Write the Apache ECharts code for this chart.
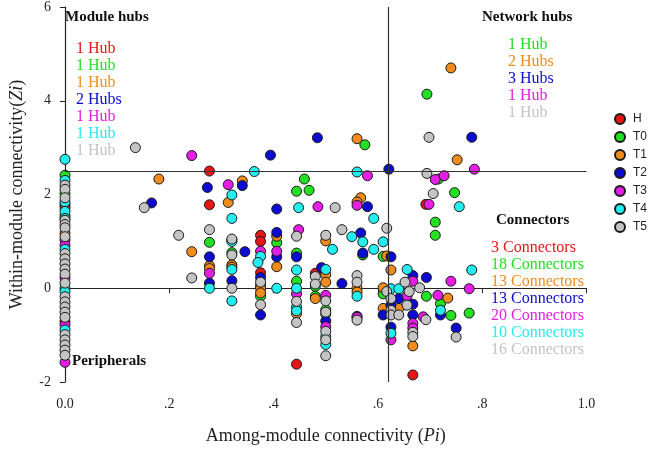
<!DOCTYPE html>
<html>
<head>
<meta charset="utf-8">
<script src="https://cdn.jsdelivr.net/npm/echarts@6/dist/echarts.min.js"></script>
<style>html,body{margin:0;padding:0;background:#fff}#c{width:666px;height:450px}</style>
</head>
<body>
<div id="c"></div>
<script>
const seriesNames = ['H','T0','T1','T2','T3','T4','T5'];
const seriesColors = ['#e41616','#22e022','#f08c1e','#0c0cd0','#e41ee4','#22eef0','#c4c4c4'];
const xTicks = ['0.0','.2','.4','.6','.8','1.0'];
const yTicks = ['-2','0','2','4','6'];
const piThreshold = 0.62;
const ziThreshold = 2.5;

const dataH = [
[0,1.78],[0,1.72],[0,-0.71],
[0.277,2.5],[0.277,1.78],[0.375,1.13],[0.375,1.0],[0.375,0.33],[0.48,0.32],[0.444,-1.62],[0.667,-1.85],[0.692,1.79]
];
const dataT0 = [
[0,2.41],[0,2.02],[0,1.55],
[0.694,4.14],[0.575,3.06],[0.459,2.33],[0.444,2.07],[0.468,2.09],[0.716,2.33],[0.747,2.04],[0.71,1.41],[0.71,1.13],
[0.277,0.98],[0.32,1.03],[0.32,0.76],[0.406,0.97],[0.444,0.75],[0.444,0.15],[0.48,0.04],[0.48,-0.17],[0.375,0.05],[0.375,-0.17],[0.5,-0.46],[0.5,-0.55],
[0.571,0.71],[0.61,0.68],[0.61,-0.12],[0.693,-0.17],[0.72,-0.33],[0.74,-0.58],[0.775,-0.53]
];
const dataT1 = [
[0,1.18],
[0.74,4.7],[0.752,2.74],[0.56,3.19],[0.18,2.33],[0.34,2.29],[0.313,1.83],[0.567,1.93],[0.56,1.84],
[0.243,0.78],[0.277,0.48],[0.277,0.42],[0.32,0.5],[0.32,0.45],[0.406,1.11],[0.406,0.46],
[0.5,1.01],[0.5,0.29],[0.5,0.13],[0.56,0.0],[0.56,-0.08],[0.617,0.69],[0.625,0.39],
[0.61,0.01],[0.61,-0.43],[0.64,-0.43],[0.734,-0.21],[0.667,-1.23],[0.48,-0.22],[0.444,-0.54],[0.375,0.0],[0.375,-0.1]
];
const dataT2 = [
[0.78,3.22],[0.621,2.54],[0.484,3.21],[0.394,2.84],[0.273,2.15],[0.34,2.19],[0.166,1.82],[0.406,1.69],[0.58,1.74],
[0.277,0.67],[0.277,0.11],[0.32,0.16],[0.345,0.78],[0.406,1.19],[0.406,0.67],[0.375,0.23],[0.375,-0.57],[0.444,0.67],
[0.492,0.44],[0.531,0.1],[0.567,1.18],[0.571,0.75],[0.625,0.67],[0.667,0.27],[0.693,0.23],[0.64,-0.22],[0.625,-0.36],
[0.61,-0.57],[0.667,-0.34],[0.667,-0.57],[0.72,-0.57],[0.75,-0.85],[0.625,-0.83],[0.5,-0.7],[0.56,-0.6]
];
const dataT3 = [
[0,1.03],[0,0.92],[0,0.22],[0,-0.78],[0,-1.58],
[0.243,2.83],[0.313,2.21],[0.785,2.54],[0.58,2.4],[0.71,2.32],[0.727,2.4],[0.56,1.77],[0.485,1.74],[0.698,1.79],[0.448,1.25],
[0.277,0.32],[0.375,0.79],[0.406,0.79],[0.667,0.15],[0.74,0.15],[0.775,-0.01],[0.656,-0.16],[0.715,-0.15],[0.687,-0.61],
[0.667,-0.75],[0.667,-0.85],[0.625,-1.1],[0.56,-0.62],[0.5,-0.15],[0.5,-0.82],[0.444,-0.12]
];
const dataT4 = [
[0,2.75],[0,2.3],[0,1.84],[0,1.64],[0,1.49],[0,0.83],[0,0.0],[0,-0.07],[0,-0.89],
[0.363,2.49],[0.56,2.48],[0.32,1.99],[0.32,1.49],[0.448,1.72],[0.592,1.49],[0.756,1.74],
[0.277,0.0],[0.32,1.0],[0.32,0.4],[0.32,-0.27],[0.375,0.68],[0.37,0.55],[0.406,0.0],
[0.444,0.39],[0.444,0.0],[0.444,-0.4],[0.444,-0.48],[0.5,0.4],[0.5,-1.03],[0.5,-1.2],
[0.513,0.83],[0.55,1.1],[0.571,0.99],[0.592,0.83],[0.61,0.99],[0.56,-0.17],[0.656,0.4],[0.78,0.39],
[0.625,-0.01],[0.64,-0.01],[0.72,-0.47],[0.625,-0.96]
];
const dataT5 = [
[0,2.2],[0,2.11],[0,1.93],[0,1.45],[0,1.36],[0,1.29],[0,1.1],[0,0.74],[0,0.63],[0,0.52],[0,0.41],[0,0.3],[0,0.11],[0,-0.18],[0,-0.29],[0,-0.4],[0,-0.51],[0,-0.62],[0,-0.99],[0,-1.1],[0,-1.21],[0,-1.32],[0,-1.43],
[0.135,3.0],[0.152,1.72],[0.218,1.13],[0.243,0.22],[0.277,1.25],[0.32,0.71],[0.32,0.0],[0.32,1.05],
[0.375,0.13],[0.375,-0.35],[0.444,1.11],[0.444,-0.28],[0.444,-0.73],[0.48,0.25],[0.48,0.09],
[0.5,1.13],[0.5,-0.27],[0.5,-0.51],[0.5,-0.92],[0.5,-1.1],[0.5,-1.44],[0.518,1.72],[0.531,1.25],
[0.56,0.27],[0.56,0.13],[0.56,-0.68],[0.617,1.28],[0.694,2.45],[0.698,3.22],[0.706,2.02],
[0.617,-0.07],[0.625,-0.22],[0.625,-0.47],[0.625,-0.57],[0.64,-0.57],[0.652,0.13],[0.66,-0.07],[0.656,-0.36],
[0.68,0.01],[0.692,-0.67],[0.667,-0.94],[0.667,-1.03],[0.75,-1.04]
];
const allData = [dataH, dataT0, dataT1, dataT2, dataT3, dataT4, dataT5];

const moduleHubs = ['1 Hub','1 Hub','1 Hub','2 Hubs','1 Hub','1 Hub','1 Hub'];
const networkHubs = ['1 Hub','2 Hubs','3 Hubs','1 Hub','1 Hub'];
const networkHubColors = [1,2,3,4,6];
const connectors = ['3 Connectors','18 Connectors','13 Connectors','13 Connectors','20 Connectors','10 Connectors','16 Connectors'];

const serif = '"Liberation Serif","Times New Roman",serif';
const graphics = [];
graphics.push({type:'text', left:65, top:10, style:{text:'Module hubs', font:'bold 15px '+serif, fill:'#111'}});
moduleHubs.forEach((t,i)=>graphics.push({type:'text', left:76, top:41+i*17, style:{text:t, font:'16px '+serif, fill:seriesColors[i]}}));
graphics.push({type:'text', left:482, top:10, style:{text:'Network hubs', font:'bold 15px '+serif, fill:'#111'}});
networkHubs.forEach((t,i)=>graphics.push({type:'text', left:508, top:37+i*17, style:{text:t, font:'16px '+serif, fill:seriesColors[networkHubColors[i]]}}));
graphics.push({type:'text', left:496, top:213, style:{text:'Connectors', font:'bold 15px '+serif, fill:'#111'}});
connectors.forEach((t,i)=>graphics.push({type:'text', left:491, top:240+i*17, style:{text:t, font:'16px '+serif, fill:seriesColors[i]}}));
graphics.push({type:'text', left:72, top:354, style:{text:'Peripherals', font:'bold 15px '+serif, fill:'#111'}});

const series = seriesNames.map((n,i)=>({
  name:n, type:'scatter', data:allData[i], symbol:'circle', symbolSize:10,
  itemStyle:{color:seriesColors[i], borderColor:'#1a1a1a', borderWidth:1, opacity:1},
  emphasis:{disabled:true}
}));
series[0].markLine = {
  silent:true, symbol:'none', animation:false,
  label:{show:false},
  lineStyle:{color:'#333', width:1.2, type:'solid'},
  data:[{xAxis:piThreshold},{yAxis:ziThreshold}]
};

const chart = echarts.init(document.getElementById('c'));
chart.setOption({
  animation:false,
  backgroundColor:'#fff',
  grid:{left:56.5, right:79.5, top:6, bottom:63, containLabel:false},
  legend:{
    orient:'vertical', left:609, top:108, itemWidth:10, itemHeight:10, itemGap:6,
    icon:'circle', data:seriesNames,
    textStyle:{fontFamily:'"Liberation Sans",Arial,sans-serif', fontSize:12, color:'#222', padding:[0,0,0,3]}
  },
  xAxis:{
    type:'value', min:0, max:1, interval:0.2,
    name:'Among-module connectivity ({i|Pi})', nameLocation:'middle', nameGap:45,
    nameTextStyle:{fontFamily:serif, fontSize:18, color:'#222', rich:{i:{fontFamily:serif, fontSize:18, fontStyle:'italic', color:'#222'}}},
    axisLine:{show:true, lineStyle:{color:'#222', width:1.2}},
    axisTick:{show:true, length:5, lineStyle:{color:'#222'}},
    axisLabel:{margin:15, fontFamily:serif, fontSize:14, color:'#222', formatter:(v)=>xTicks[Math.round(v/0.2)]},
    splitLine:{show:false}
  },
  yAxis:{
    type:'value', min:-2, max:6, interval:2,
    name:'Within-module connectivity({i|Zi})', nameLocation:'middle', nameGap:39,
    nameTextStyle:{fontFamily:serif, fontSize:18, color:'#222', rich:{i:{fontFamily:serif, fontSize:18, fontStyle:'italic', color:'#222'}}},
    axisLine:{show:true, lineStyle:{color:'#222', width:1.2}},
    axisTick:{show:true, length:5, lineStyle:{color:'#222'}},
    axisLabel:{margin:14, fontFamily:serif, fontSize:14, color:'#222', formatter:(v)=>yTicks[Math.round((v+2)/2)]},
    splitLine:{show:false}
  },
  graphic:graphics,
  series:series
});
</script>
</body>
</html>
